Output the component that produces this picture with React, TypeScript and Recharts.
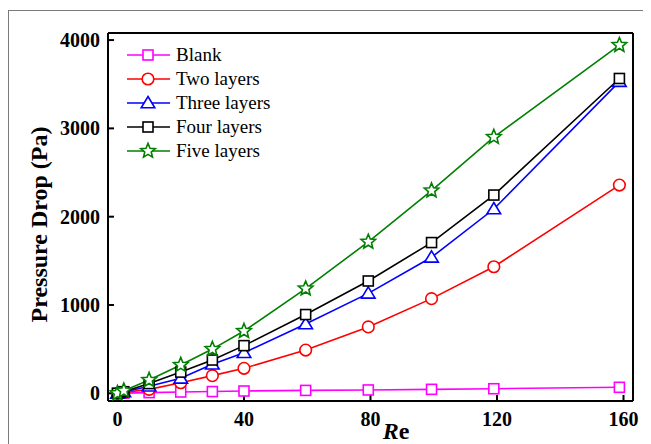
import React from 'react';
import { LineChart, Line, XAxis, YAxis, ReferenceLine, Legend } from 'recharts';

const reValues = [0, 2, 10, 20, 30, 40, 59.5, 79.3, 99.3, 119, 158.7];
const blank = [0, 2, 8, 15, 20, 26, 33, 38, 45, 52, 68];
const twoLayers = [0, 10, 45, 120, 200, 283, 490, 752, 1072, 1433, 2358];
const threeLayers = [0, 15, 80, 170, 330, 460, 785, 1132, 1540, 2087, 3530];
const fourLayers = [0, 18, 110, 240, 377, 540, 892, 1272, 1707, 2245, 3565];
const fiveLayers = [0, 30, 150, 321, 501, 705, 1186, 1715, 2296, 2902, 3943];

const xTicks = [0, 40, 80, 120, 160];
const yTicks = [0, 1000, 2000, 3000, 4000];

const seriesNames = ['Blank', 'Two layers', 'Three layers', 'Four layers', 'Five layers'];
const seriesKeys = ['blank', 'two', 'three', 'four', 'five'];
const seriesColors = ['#ff00ff', '#ff0000', '#0000ff', '#000000', '#008000'];
const seriesShapes = ['square', 'circle', 'triangle', 'square', 'star'];

const data = reValues.map((x, i) => ({
  x,
  blank: blank[i],
  two: twoLayers[i],
  three: threeLayers[i],
  four: fourLayers[i],
  five: fiveLayers[i],
}));

const FONT = '"Liberation Serif", "Times New Roman", serif';

function starPoints(cx: number, cy: number, ro: number, ri: number) {
  const pts: string[] = [];
  for (let k = 0; k < 10; k++) {
    const r = k % 2 === 0 ? ro : ri;
    const a = -Math.PI / 2 + (k * Math.PI) / 5;
    pts.push(`${cx + r * Math.cos(a)},${cy + r * Math.sin(a)}`);
  }
  return pts.join(' ');
}

function Marker({ shape, cx, cy, color }: { shape: string; cx: number; cy: number; color: string }) {
  const common = { fill: '#ffffff', stroke: color, strokeWidth: 1.6 };
  if (shape === 'square') return <rect x={cx - 5} y={cy - 5} width={10} height={10} {...common} />;
  if (shape === 'circle') return <circle cx={cx} cy={cy} r={5.8} {...common} />;
  if (shape === 'triangle')
    return <polygon points={`${cx},${cy - 6.5} ${cx + 6.8},${cy + 4.8} ${cx - 6.8},${cy + 4.8}`} {...common} />;
  return <polygon points={starPoints(cx, cy, 7.6, 3.4)} {...common} strokeLinejoin="miter" />;
}

const makeDot = (shape: string, color: string, name: string) => (props: any) => {
  const { cx, cy, index } = props;
  if (cx == null || cy == null) return <g key={`${name}-${index}`} />;
  return (
    <g key={`${name}-${index}`}>
      <Marker shape={shape} cx={cx} cy={cy} color={color} />
    </g>
  );
};

function LegendBox() {
  const rows = [17, 41, 65, 89, 113];
  return (
    <svg width={220} height={130} style={{ overflow: 'visible' }}>
      {seriesNames.map((n, i) => (
        <g key={n}>
          <line x1={9} x2={52} y1={rows[i]} y2={rows[i]} stroke={seriesColors[i]} strokeWidth={1.6} />
          <Marker shape={seriesShapes[i]} cx={30} cy={rows[i]} color={seriesColors[i]} />
          <text x={58} y={rows[i] + 6.3} fontFamily={FONT} fontSize={19} fill="#000">
            {n}
          </text>
        </g>
      ))}
    </svg>
  );
}

export default function App() {
  return (
    <div style={{ position: 'relative', width: 643, height: 436 }}>
      <div
        style={{
          position: 'absolute',
          left: 0,
          top: 2,
          width: 643,
          height: 434,
          borderLeft: '1px solid #7a7a7a',
          borderTop: '1px solid #7a7a7a',
          boxSizing: 'border-box',
        }}
      />
      <LineChart
        width={643}
        height={436}
        data={data}
        margin={{ top: 25, right: 18, bottom: 13, left: 40 }}
        style={{ position: 'absolute', left: 0, top: 0 }}
      >
        <XAxis
          dataKey="x"
          type="number"
          domain={[-3, 163]}
          allowDataOverflow
          ticks={xTicks}
          interval={0}
          height={30}
          tickSize={-6}
          tickMargin={17}
          axisLine={{ stroke: '#000', strokeWidth: 2 }}
          tickLine={{ stroke: '#000', strokeWidth: 2 }}
          tick={{ fill: '#000', fontSize: 20, fontWeight: 'bold', fontFamily: FONT }}
          label={{
            content: () => (
              <text x={388} y={431} textAnchor="middle" fontFamily={FONT} fontSize={24} fontWeight="bold" fill="#000">
                <tspan fontStyle="italic">R</tspan>
                <tspan>e</tspan>
              </text>
            ),
          }}
        />
        <YAxis
          type="number"
          domain={[-87, 4080]}
          allowDataOverflow
          ticks={yTicks}
          interval={0}
          width={60}
          tickSize={-6}
          tickMargin={14}
          axisLine={{ stroke: '#000', strokeWidth: 2 }}
          tickLine={{ stroke: '#000', strokeWidth: 2 }}
          tick={{ fill: '#000', fontSize: 20, fontWeight: 'bold', fontFamily: FONT }}
          label={{
            content: () => (
              <text
                transform="translate(39,216.5) rotate(-90)"
                x={0}
                y={0}
                textAnchor="middle"
                fontFamily={FONT}
                fontSize={24}
                fontWeight="bold"
                fill="#000"
              >
                Pressure Drop (Pa)
              </text>
            ),
          }}
        />
        <ReferenceLine x={163} stroke="#000" strokeWidth={2} ifOverflow="visible" />
        <ReferenceLine y={4080} stroke="#000" strokeWidth={2} ifOverflow="visible" />
        {seriesKeys.map((k, i) => (
          <Line
            key={k}
            type="linear"
            dataKey={k}
            name={seriesNames[i]}
            stroke={seriesColors[i]}
            strokeWidth={1.6}
            dot={makeDot(seriesShapes[i], seriesColors[i], k)}
            activeDot={false}
            isAnimationActive={false}
          />
        ))}
        <Legend
          layout="vertical"
          align="center"
          verticalAlign="middle"
          wrapperStyle={{ left: 110, top: 30, width: 220, height: 130 }}
          content={() => <LegendBox />}
        />
      </LineChart>
    </div>
  );
}
